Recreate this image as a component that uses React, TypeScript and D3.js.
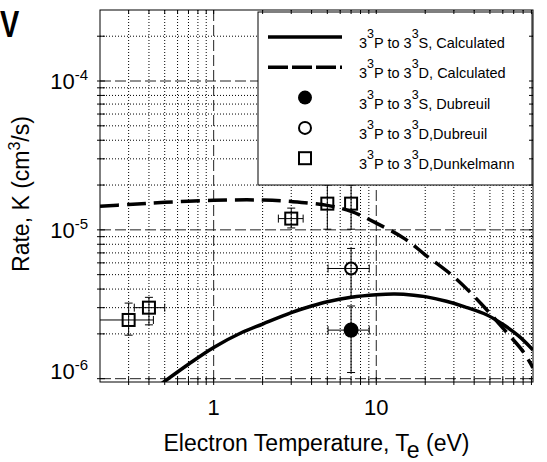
import React from "react";
import * as d3 from "d3";

// Calculated curves
const sCalcT = [0.48, 0.7, 1, 1.5, 2, 3, 4, 5, 7, 10, 13, 17, 20, 27, 35, 48, 60, 75, 92];
const sCalcK = [0.93e-6, 1.25e-6, 1.62e-6, 2.05e-6, 2.33e-6, 2.78e-6, 3.08e-6, 3.29e-6, 3.52e-6, 3.66e-6, 3.7e-6, 3.64e-6, 3.56e-6, 3.31e-6, 3.04e-6, 2.68e-6, 2.32e-6, 1.94e-6, 1.56e-6];
const dCalcT = [0.2, 0.3, 0.5, 1, 1.6, 2, 3, 5, 7, 10, 15, 20, 30, 44, 64, 80, 92];
const dCalcK = [1.44e-5, 1.48e-5, 1.53e-5, 1.58e-5, 1.59e-5, 1.585e-5, 1.55e-5, 1.46e-5, 1.33e-5, 1.11e-5, 0.87e-5, 0.68e-5, 0.484e-5, 0.32e-5, 0.202e-5, 0.152e-5, 0.118e-5];

// Dubreuil points
const dubST = [7];
const dubSK = [2.12e-6];
const dubSTlo = [5.05];
const dubSThi = [9.05];
const dubSKlo = [1.1e-6];
const dubSKhi = [3.08e-6];

const dubDT = [7];
const dubDK = [5.5e-6];
const dubDTlo = [5.05];
const dubDThi = [9.05];
const dubDKlo = [3.5e-6];
const dubDKhi = [7.5e-6];

// Dunkelmann points
const dunkT = [0.3, 0.4, 3, 5, 7];
const dunkK = [2.48e-6, 3.0e-6, 1.19e-5, 1.5e-5, 1.5e-5];
const dunkTlo = [0.174, 0.325, 2.5, 5, 7];
const dunkThi = [0.426, 0.5, 3.55, 5, 7];
const dunkKlo = [1.96e-6, 2.3e-6, 1.03e-5, 1.01e-5, 1.01e-5];
const dunkKhi = [3.22e-6, 3.52e-6, 1.4e-5, 2.0e-5, 2.0e-5];

// Axis ticks
const xMajor = [1, 10];
const xMinor = [0.3, 0.4, 0.5, 0.6, 0.7, 0.8, 0.9, 2, 3, 4, 5, 6, 7, 8, 9, 20, 30, 40, 50, 60, 70, 80, 90];
const yMajor = [1e-6, 1e-5, 1e-4];
const yMajorExp = ["-6", "-5", "-4"];
const yMinor = [2e-6, 3e-6, 4e-6, 5e-6, 6e-6, 7e-6, 8e-6, 9e-6, 2e-5, 3e-5, 4e-5, 5e-5, 6e-5, 7e-5, 8e-5, 9e-5, 2e-4];
const xTickLabels = ["1", "10"];

const legendLabels = [
  ["S, Calculated"],
  ["D, Calculated"],
  ["S, Dubreuil"],
  ["D,Dubreuil"],
  ["D,Dunkelmann"],
];

const FONT = "'Liberation Sans', Arial, Helvetica, sans-serif";

export default function App() {
  const W = 547, H = 462;
  const X0 = 100, X1 = 533, Y0 = 10, Y1 = 382;
  const x = d3.scaleLog().domain([0.2, 92]).range([X0, X1]);
  const y = d3.scaleLog().domain([0.95e-6, 3e-4]).range([Y1, Y0]);

  const line = d3
    .line<[number, number]>()
    .x((d) => x(d[0]))
    .y((d) => y(d[1]))
    .curve(d3.curveCatmullRom.alpha(0.5));

  const sPath = line(sCalcT.map((t, i) => [t, sCalcK[i]]) as [number, number][]) || "";
  const dPath = line(dCalcT.map((t, i) => [t, dCalcK[i]]) as [number, number][]) || "";

  const cap = 4;
  const errBars = (T: number, K: number, Tlo: number, Thi: number, Klo: number, Khi: number, key: string) => {
    const cx = x(T), cy = y(K);
    const els: any[] = [];
    if (Tlo !== Thi) {
      els.push(<line key={key + "h"} x1={x(Tlo)} x2={x(Thi)} y1={cy} y2={cy} stroke="#000" strokeWidth={1} />);
      els.push(<line key={key + "hl"} x1={x(Tlo)} x2={x(Tlo)} y1={cy - cap} y2={cy + cap} stroke="#000" strokeWidth={1} />);
      els.push(<line key={key + "hr"} x1={x(Thi)} x2={x(Thi)} y1={cy - cap} y2={cy + cap} stroke="#000" strokeWidth={1} />);
    }
    els.push(<line key={key + "v"} x1={cx} x2={cx} y1={y(Klo)} y2={y(Khi)} stroke="#000" strokeWidth={1} />);
    els.push(<line key={key + "vb"} x1={cx - cap} x2={cx + cap} y1={y(Klo)} y2={y(Klo)} stroke="#000" strokeWidth={1} />);
    els.push(<line key={key + "vt"} x1={cx - cap} x2={cx + cap} y1={y(Khi)} y2={y(Khi)} stroke="#000" strokeWidth={1} />);
    return els;
  };

  const legX = 258, legY = 12, legW = 274, legH = 173;
  const rowY = (i: number) => 37 + i * 30.3;

  return (
    <svg
      width={W}
      height={H}
      style={{ position: "absolute", left: 0, top: 0, background: "#fff" }}
      fontFamily={FONT}
    >
      <defs>
        <clipPath id="plotClip">
          <rect x={X0} y={Y0} width={X1 - X0} height={Y1 - Y0} />
        </clipPath>
      </defs>
      <rect x={0} y={0} width={W} height={H} fill="#fff" />

      {/* grid */}
      <g>
        {xMinor.map((v) => (
          <line key={"xm" + v} x1={x(v)} x2={x(v)} y1={Y0} y2={Y1} stroke="#000" strokeWidth={1} strokeDasharray="1,2" />
        ))}
        {yMinor.map((v) => (
          <line key={"ym" + v} x1={X0} x2={X1} y1={y(v)} y2={y(v)} stroke="#000" strokeWidth={1} strokeDasharray="1,2" />
        ))}
        {xMajor.map((v) => (
          <line key={"xM" + v} x1={x(v)} x2={x(v)} y1={Y0} y2={Y1} stroke="#222" strokeWidth={1} strokeDasharray="11,4" />
        ))}
        {yMajor.map((v) => (
          <line key={"yM" + v} x1={X0} x2={X1} y1={y(v)} y2={y(v)} stroke="#222" strokeWidth={1} strokeDasharray="11,4" />
        ))}
      </g>

      {/* curves */}
      <g clipPath="url(#plotClip)">
        <path d={sPath} fill="none" stroke="#000" strokeWidth={3.5} />
        <path d={dPath} fill="none" stroke="#000" strokeWidth={3.5} strokeDasharray="19,8" />
      </g>

      {/* data points */}
      <g clipPath="url(#plotClip)">
        {dunkT.map((t, i) =>
          errBars(t, dunkK[i], dunkTlo[i], dunkThi[i], dunkKlo[i], dunkKhi[i], "dk" + i)
        )}
        {dunkT.map((t, i) => (
          <rect key={"dks" + i} x={x(t) - 6} y={y(dunkK[i]) - 6} width={12} height={12} fill="none" stroke="#000" strokeWidth={2} />
        ))}
        {dubDT.map((t, i) =>
          errBars(t, dubDK[i], dubDTlo[i], dubDThi[i], dubDKlo[i], dubDKhi[i], "dd" + i)
        )}
        {dubDT.map((t, i) => (
          <circle key={"ddc" + i} cx={x(t)} cy={y(dubDK[i])} r={6} fill="none" stroke="#000" strokeWidth={2} />
        ))}
        {dubST.map((t, i) =>
          errBars(t, dubSK[i], dubSTlo[i], dubSThi[i], dubSKlo[i], dubSKhi[i], "ds" + i)
        )}
        {dubST.map((t, i) => (
          <circle key={"dsc" + i} cx={x(t)} cy={y(dubSK[i])} r={7.5} fill="#000" />
        ))}
      </g>

      {/* legend */}
      <g>
        <rect x={legX} y={legY} width={legW} height={legH} fill="#fff" stroke="#000" strokeWidth={1} />
        <line x1={268} x2={342} y1={rowY(0)} y2={rowY(0)} stroke="#000" strokeWidth={3.5} />
        <line x1={268} x2={342} y1={rowY(1)} y2={rowY(1)} stroke="#000" strokeWidth={3.5} strokeDasharray="20,4" />
        <circle cx={305} cy={rowY(2)} r={7} fill="#000" />
        <circle cx={305} cy={rowY(3)} r={6} fill="none" stroke="#000" strokeWidth={2} />
        <rect x={299} y={rowY(4) - 6} width={12} height={12} fill="none" stroke="#000" strokeWidth={2} />
        {legendLabels.map((lab, i) => (
          <text key={"lt" + i} x={359} y={rowY(i) + 11} fontSize={14.5} fill="#000">
            <tspan>3</tspan>
            <tspan fontSize={12.5} dy={-10}>3</tspan>
            <tspan dy={10}>P to 3</tspan>
            <tspan fontSize={12.5} dy={-10}>3</tspan>
            <tspan dy={10}>{lab[0]}</tspan>
          </text>
        ))}
      </g>

      {/* frame */}
      <rect x={X0} y={Y0} width={X1 - X0} height={Y1 - Y0} fill="none" stroke="#000" strokeWidth={1} />
      {/* ticks */}
      <g stroke="#000" strokeWidth={1}>
        {[...xMinor, ...xMajor].map((v) => (
          <g key={"xt" + v}>
            <line x1={x(v)} x2={x(v)} y1={Y1 - 5} y2={Y1 + 3} />
            <line x1={x(v)} x2={x(v)} y1={Y0} y2={Y0 + 4} />
          </g>
        ))}
        {[...yMinor, ...yMajor].map((v) => (
          <g key={"yt" + v}>
            <line x1={X0 - 3} x2={X0 + 5} y1={y(v)} y2={y(v)} />
            <line x1={X1 - 4} x2={X1} y1={y(v)} y2={y(v)} />
          </g>
        ))}
      </g>

      {/* tick labels */}
      {xMajor.map((v, i) => (
        <text key={"xl" + v} x={x(v)} y={415} fontSize={22} textAnchor="middle" fill="#000">
          {xTickLabels[i]}
        </text>
      ))}
      {yMajor.map((v, i) => (
        <text key={"yl" + v} x={88} y={i === 0 ? y(v) : y(v) + 8} fontSize={22} textAnchor="end" fill="#000">
          <tspan>10</tspan>
          <tspan fontSize={15} dy={-9}>{yMajorExp[i]}</tspan>
        </text>
      ))}

      {/* axis titles */}
      <text x={(X0 + X1) / 2} y={451} fontSize={23} textAnchor="middle" fill="#000">
        <tspan>Electron Temperature, T</tspan>
        <tspan dy={7}>e</tspan>
        <tspan dy={-7}> (eV)</tspan>
      </text>
      <text transform="translate(29,194) rotate(-90)" fontSize={23} textAnchor="middle" fill="#000">
        <tspan>Rate, K (cm</tspan>
        <tspan fontSize={16} dy={-9}>3</tspan>
        <tspan dy={9}>/s)</tspan>
      </text>

      {/* panel letter */}
      <text transform="translate(0,37) scale(0.78,1)" x={0} y={0} fontSize={37} fontWeight="bold" fill="#000">V</text>
    </svg>
  );
}
